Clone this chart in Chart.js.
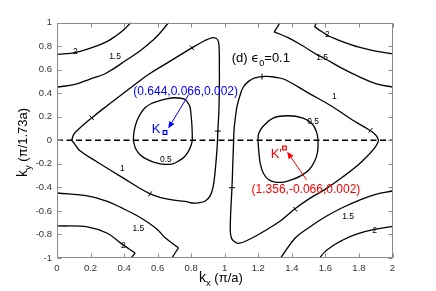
<!DOCTYPE html>
<html><head><meta charset="utf-8">
<script src="https://cdn.jsdelivr.net/npm/chart.js@4"></script>
<style>html,body{margin:0;padding:0;background:#fff}canvas{display:block}</style>
</head><body>
<canvas id="c" width="436" height="291"></canvas>
<script>
// ---- tick values / labels ----
const xTickValues = [0,0.2,0.4,0.6,0.8,1,1.2,1.4,1.6,1.8,2];
const xTickLabels = ['0','0.2','0.4','0.6','0.8','1','1.2','1.4','1.6','1.8','2'];
const yTickValues = [-1,-0.8,-0.6,-0.4,-0.2,0,0.2,0.4,0.6,0.8,1];
const yTickLabels = ['-1','-0.8','-0.6','-0.4','-0.2','0','0.2','0.4','0.6','0.8','1'];

// ---- contour level 2 ----
const c2TopLeft = [[0,0.73],[0.11,0.745],[0.217,0.79],[0.30,0.84],[0.35,0.885],[0.40,0.94],[0.44,1.0]];
const c2TopRight = [[2,0.734],[1.899,0.757],[1.80,0.79],[1.739,0.818],[1.67,0.855],[1.62,0.885],[1.575,0.925],[1.535,0.965]];
const c2TopRightTail = [[1.535,0.965],[1.548,1.0]];
const c2BottomLeft = [[0,-0.727],[0.187,-0.737],[0.30,-0.79],[0.386,-0.88],[0.466,-0.958]];
const c2BottomLeftTail = [[0.466,-0.958],[0.442,-1.0]];
const c2BottomRight = [[2,-0.732],[1.9,-0.755],[1.79,-0.795],[1.70,-0.85],[1.64,-0.90],[1.595,-0.95],[1.565,-1.0]];

// ---- contour level 1.5 ----
const c15TopLeft = [[0,0.452],[0.107,0.474],[0.197,0.52],[0.287,0.565],[0.416,0.683],[0.50,0.765],[0.575,0.853],[0.62,0.92],[0.665,1.0]];
const c15TopRight = [[2,0.452],[1.9,0.48],[1.80,0.54],[1.70,0.61],[1.60,0.69],[1.54,0.735],[1.467,0.80],[1.38,0.87],[1.295,0.92]];
const c15TopRightTail = [[1.295,0.92],[1.33,1.0]];
const c15BottomLeft = [[0,-0.448],[0.187,-0.474],[0.30,-0.52],[0.386,-0.575],[0.47,-0.635],[0.545,-0.70],[0.60,-0.76],[0.645,-0.828],[0.724,-0.913]];
const c15BottomLeftTail = [[0.724,-0.913],[0.685,-1.0]];
const c15BottomRight = [[2,-0.431],[1.9,-0.46],[1.80,-0.51],[1.70,-0.573],[1.60,-0.65],[1.50,-0.743],[1.42,-0.83],[1.341,-0.983],[1.333,-1.0]];

// ---- contour level 1 (closed triangles) ----
const c1Left = [[0.088,0.0],[0.10,0.05],[0.127,0.092],[0.207,0.19],[0.30,0.295],[0.386,0.389],[0.476,0.486],[0.545,0.559],[0.675,0.672],[0.804,0.785],[0.88,0.845],[0.923,0.87],[0.948,0.866],[0.962,0.84],[0.967,0.757],[0.968,0.60],[0.968,0.474],[0.965,0.25],[0.959,0.078],[0.955,-0.05],[0.943,-0.26],[0.93,-0.40],[0.912,-0.475],[0.884,-0.516],[0.844,-0.531],[0.804,-0.533],[0.764,-0.52],[0.66,-0.50],[0.555,-0.455],[0.386,-0.313],[0.247,-0.191],[0.137,-0.09],[0.105,-0.03],[0.088,0.0]];
const c1Right = [[1.918,0],[1.90,0.045],[1.859,0.089],[1.759,0.174],[1.64,0.287],[1.50,0.40],[1.361,0.514],[1.30,0.535],[1.242,0.542],[1.18,0.53],[1.142,0.50],[1.11,0.45],[1.093,0.389],[1.075,0.30],[1.063,0.19],[1.055,0.08],[1.053,0],[1.048,-0.2],[1.043,-0.403],[1.036,-0.6],[1.033,-0.771],[1.04,-0.83],[1.053,-0.856],[1.082,-0.875],[1.142,-0.845],[1.242,-0.766],[1.331,-0.686],[1.421,-0.58],[1.5,-0.50],[1.6,-0.415],[1.70,-0.315],[1.795,-0.21],[1.86,-0.12],[1.899,-0.055],[1.918,0]];

// ---- contour level 0.5 (closed loops) ----
const c05Left = [[0.455,0],[0.46,0.08],[0.476,0.163],[0.50,0.23],[0.525,0.276],[0.56,0.31],[0.605,0.333],[0.655,0.352],[0.704,0.361],[0.74,0.356],[0.764,0.346],[0.784,0.31],[0.794,0.276],[0.80,0.20],[0.804,0.134],[0.806,0.06],[0.806,0],[0.80,-0.04],[0.784,-0.092],[0.76,-0.14],[0.724,-0.177],[0.69,-0.20],[0.645,-0.205],[0.585,-0.19],[0.54,-0.165],[0.50,-0.13],[0.47,-0.075],[0.455,0]];
const c05Right = [[1.198,0],[1.203,0.06],[1.228,0.117],[1.288,0.188],[1.377,0.208],[1.467,0.188],[1.52,0.14],[1.546,0.075],[1.556,0],[1.553,-0.10],[1.535,-0.18],[1.50,-0.255],[1.45,-0.305],[1.40,-0.335],[1.35,-0.355],[1.30,-0.355],[1.262,-0.335],[1.23,-0.28],[1.212,-0.20],[1.203,-0.092],[1.198,0]];

// ---- dashed line ky = 0 ----
const zeroLine = [[0,0],[2,0]];

// ---- contour label marks ('+' ticks) ----
const markX = [0.207,0.804,0.959,0.555,1.222,1.869,1.043,1.421];
const markY = [0.19,0.785,0.078,-0.455,0.54,0.085,-0.403,-0.587];
const markAngle = [48,48,0,125,90,-50,0,50];

// ---- contour value labels ----
const labelText = ['2','1.5','1','0.5','1.5','2','1','0.5','1.5','2','1.5','2'];
const labelX = [0.11,0.346,1.654,1.527,1.58,1.612,0.39,0.649,0.485,0.396,1.735,1.894];
const labelY = [0.75,0.71,0.372,0.162,0.70,0.896,-0.242,-0.166,-0.754,-0.896,-0.65,-0.766];

// ---- K points and annotations ----
const kPoint = [0.644,0.066];
const kpPoint = [1.356,-0.066];
const kText = '(0.644,0.066,0.002)';
const kpText = '(1.356,-0.066,0.002)';
const kTextPos = [0.767,0.416];
const kpTextPos = [1.484,-0.424];
const kLetterPos = [0.591,0.089];
const kpLetterPos = [1.307,-0.123];
const kArrow = [[0.784,0.386],[0.663,0.10]];
const kpArrow = [[1.487,-0.335],[1.372,-0.098]];
const panelTitlePos = [1.042,0.709];

const FONT = '"Liberation Sans", Arial, Helvetica, sans-serif';
const AXIS_COLOR = '#8a8a8a';
const xy = a => a.map(p => ({x:p[0], y:p[1]}));

function curve(arr, tension){
  return {data: xy(arr), showLine:true, borderColor:'#000', borderWidth:1.3, pointRadius:0,
          tension: tension===undefined?0.4:tension, fill:false};
}

const datasets = [
  curve(c2TopLeft), curve(c2TopRight), curve(c2TopRightTail,0), curve(c2BottomLeft), curve(c2BottomLeftTail,0), curve(c2BottomRight),
  curve(c15TopLeft), curve(c15TopRight), curve(c15TopRightTail,0), curve(c15BottomLeft), curve(c15BottomLeftTail,0), curve(c15BottomRight),
  curve(c1Left), curve(c1Right), curve(c05Left), curve(c05Right),
  {data: xy(zeroLine), showLine:true, borderColor:'#000', borderWidth:1.3, borderDash:[6,3.5], pointRadius:0, tension:0},
  {data: markX.map((v,i)=>({x:v,y:markY[i]})), showLine:false, pointStyle:'line', pointRadius:3,
   rotation: markAngle, borderColor:'#000', borderWidth:1},
  {data: [{x:kPoint[0],y:kPoint[1]}], showLine:false, pointStyle:'rect', pointRadius:2.6,
   backgroundColor:'#fff', borderColor:'#0000ff', borderWidth:1.2},
  {data: [{x:kpPoint[0],y:kpPoint[1]}], showLine:false, pointStyle:'rect', pointRadius:2.6,
   backgroundColor:'#fff', borderColor:'#ff0000', borderWidth:1.2}
];

function arrow(ctx, x0,y0,x1,y1,color){
  ctx.strokeStyle=color; ctx.fillStyle=color; ctx.lineWidth=1;
  const ang=Math.atan2(y1-y0,x1-x0), L=7, W=3;
  const bx=x1-L*Math.cos(ang), by=y1-L*Math.sin(ang);
  ctx.beginPath(); ctx.moveTo(x0,y0); ctx.lineTo(bx,by); ctx.stroke();
  ctx.beginPath(); ctx.moveTo(x1,y1);
  ctx.lineTo(bx+W*Math.sin(ang), by-W*Math.cos(ang));
  ctx.lineTo(bx-W*Math.sin(ang), by+W*Math.cos(ang));
  ctx.closePath(); ctx.fill();
}

const decor = {
  id:'decor',
  afterDatasetsDraw(chart){
    const {ctx, chartArea:a, scales} = chart;
    const X=v=>scales.x.getPixelForValue(v), Y=v=>scales.y.getPixelForValue(v);
    ctx.save();
    // contour labels
    ctx.fillStyle='#000'; ctx.font='8.5px '+FONT; ctx.textAlign='center'; ctx.textBaseline='middle';
    labelText.forEach((t,i)=>ctx.fillText(t, X(labelX[i]), Y(labelY[i])));
    // annotations
    ctx.font='12px '+FONT;
    ctx.fillStyle='#0000ff';
    ctx.fillText(kText, X(kTextPos[0]), Y(kTextPos[1]));
    ctx.font='13px '+FONT;
    ctx.fillText('K', X(kLetterPos[0]), Y(kLetterPos[1]));
    arrow(ctx, X(kArrow[0][0]),Y(kArrow[0][1]),X(kArrow[1][0]),Y(kArrow[1][1]),'#0000ff');
    ctx.fillStyle='#ff0000';
    ctx.font='12px '+FONT;
    ctx.fillText(kpText, X(kpTextPos[0]), Y(kpTextPos[1]));
    ctx.font='13px '+FONT;
    ctx.fillText("K'", X(kpLetterPos[0]), Y(kpLetterPos[1]));
    arrow(ctx, X(kpArrow[0][0]),Y(kpArrow[0][1]),X(kpArrow[1][0]),Y(kpArrow[1][1]),'#ff0000');
    // panel title
    ctx.fillStyle='#000'; ctx.textAlign='left'; ctx.textBaseline='alphabetic';
    let tx=X(panelTitlePos[0]); const ty=Y(panelTitlePos[1])+5;
    ctx.font='13px '+FONT; ctx.fillText('(d) ', tx, ty); tx+=ctx.measureText('(d) ').width;
    ctx.font='13px "DejaVu Sans", sans-serif'; ctx.fillText('\u03F5', tx, ty); tx+=ctx.measureText('\u03F5').width;
    ctx.font='9px '+FONT; ctx.fillText('0', tx, ty+4); tx+=ctx.measureText('0').width;
    ctx.font='13px '+FONT; ctx.fillText('=0.1', tx, ty);
    // box and inward ticks
    ctx.strokeStyle=AXIS_COLOR; ctx.lineWidth=1;
    const l=Math.round(a.left)+0.5, r=Math.round(a.right)-0.5, t=Math.round(a.top)+0.5, b=Math.round(a.bottom)-0.5;
    ctx.strokeRect(l,t,r-l,b-t);
    ctx.beginPath();
    xTickValues.forEach(v=>{const p=Math.round(X(v))+0.5; ctx.moveTo(p,b); ctx.lineTo(p,b-4); ctx.moveTo(p,t); ctx.lineTo(p,t+4);});
    yTickValues.forEach(v=>{const p=Math.round(Y(v))+0.5; ctx.moveTo(l,p); ctx.lineTo(l+4,p); ctx.moveTo(r,p); ctx.lineTo(r-4,p);});
    ctx.stroke();
    // axis titles
    ctx.fillStyle='#000';
    let xt = 199, yt = 282;
    ctx.font='14px '+FONT; ctx.fillText('k', xt, yt); xt+=ctx.measureText('k').width;
    ctx.font='9.5px '+FONT; ctx.fillText('x', xt, yt+4); xt+=ctx.measureText('x').width;
    ctx.font='13px '+FONT; ctx.fillText(' (\u03C0/a)', xt, yt);
    ctx.save(); ctx.translate(27, 177); ctx.rotate(-Math.PI/2);
    let yx=0;
    ctx.font='14px '+FONT; ctx.fillText('k', yx, 0); yx+=ctx.measureText('k').width;
    ctx.font='9.5px '+FONT; ctx.fillText('y', yx, 4); yx+=ctx.measureText('y').width;
    ctx.font='13px '+FONT; ctx.fillText(' (\u03C0/1.73a)', yx, 0);
    ctx.restore();
    ctx.restore();
  }
};

new Chart(document.getElementById('c'), {
  type:'scatter',
  data:{datasets},
  options:{
    responsive:false, animation:false, devicePixelRatio:1, events:[],
    layout:{padding:{left:0, top:22.5, right:43.5, bottom:0}},
    plugins:{legend:{display:false}, tooltip:{enabled:false}},
    scales:{
      x:{type:'linear', min:0, max:2,
         grid:{display:false, drawTicks:false}, border:{display:false},
         afterBuildTicks: s => { s.ticks = xTickValues.map(v=>({value:v})); },
         afterFit: s => { s.height = 33; },
         ticks:{padding:5, color:'#333', font:{family:FONT, size:9.5},
                callback:(v,i)=>xTickLabels[i], maxRotation:0, autoSkip:false}},
      y:{type:'linear', min:-1, max:1,
         grid:{display:false, drawTicks:false}, border:{display:false},
         afterBuildTicks: s => { s.ticks = yTickValues.map(v=>({value:v})); },
         afterFit: s => { s.width = 57; },
         ticks:{padding:5, color:'#333', font:{family:FONT, size:9.5},
                callback:(v,i)=>yTickLabels[i], autoSkip:false}}
    }
  },
  plugins:[decor]
});
</script>
</body></html>
